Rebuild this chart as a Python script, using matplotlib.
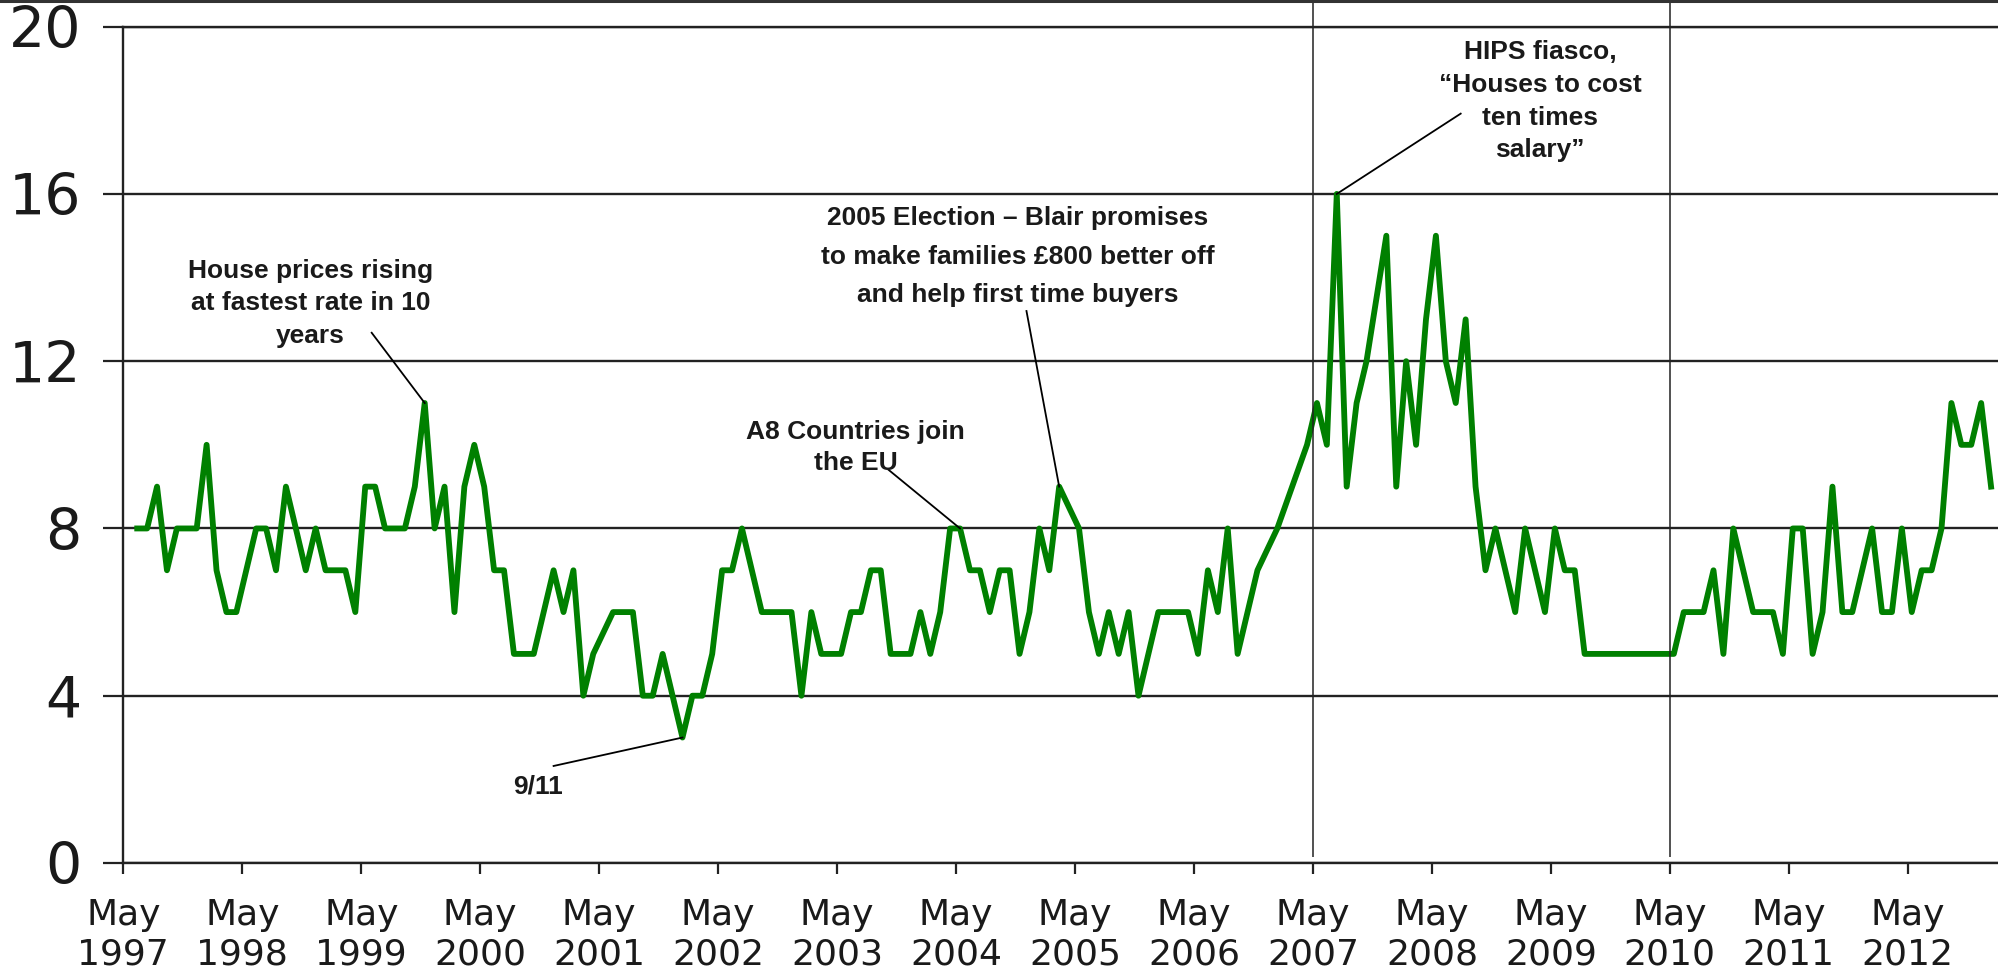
import numpy as np
import matplotlib
matplotlib.use('Agg')
import matplotlib.pyplot as plt
from matplotlib.lines import Line2D

nan = np.nan

# monthly values, June 1997 .. Jan 2013 (nan = no point, line joins across)
values = [8, 8, 9, 7, 8, 8, 8, 10, 7, 6, 6, 7, 8, 8, 7, 9, 8, 7, 8, 7,
          7, 7, 6, 9, 9, 8, 8, 8, 9, 11, 8, 9, 6, 9, 10, 9, 7, 7, 5, 5,
          5, 6, 7, 6, 7, 4, 5, nan, 6, 6, 6, 4, 4, 5, 4, 3, 4, 4, 5, 7,
          7, 8, 7, 6, 6, 6, 6, 4, 6, 5, 5, 5, 6, 6, 7, 7, 5, 5, 5, 6,
          5, 6, 8, 8, 7, 7, 6, 7, 7, 5, 6, 8, 7, 9, nan, 8, 6, 5, 6, 5,
          6, 4, 5, 6, 6, 6, 6, 5, 7, 6, 8, 5, 6, 7, nan, 8, nan, nan, 10, 11,
          10, 16, 9, 11, 12, nan, 15, 9, 12, 10, 13, 15, 12, 11, 13, 9, 7, 8, 7, 6,
          8, 7, 6, 8, 7, 7, 5, 5, 5, 5, 5, 5, 5, 5, 5, 5, 6, 6, 6, 7,
          5, 8, 7, 6, 6, 6, 5, 8, 8, 5, 6, 9, 6, 6, 7, 8, 6, 6, 8, 6,
          7, 7, 8, 11, 10, 10, 11, 9]
months = np.arange(1, len(values) + 1)          # months after May 1997
tick_months = np.arange(0, 181, 12)
tick_labels = ['May\n%d' % y for y in range(1997, 2013)]
event_months = [120, 156]                        # May 2007, May 2010

# note text, text position (month, value), index of the point, leader start
notes = [
    ('House prices rising\nat fastest rate in 10\nyears', 18.9, 14.45, 29, (25.05, 12.68)),
    ('9/11', 41.8, 2.12, 55, (43.4, 2.32)),
    ('A8 Countries join\nthe EU', 73.85, 10.6, 83, (77.2, 9.4)),
    ('2005 Election \u2013 Blair promises\nto make families \u00a3800 better off\nand help first time buyers',
     90.2, 15.7, 93, (91.1, 13.2)),
    ('HIPS fiasco,\n\u201cHouses to cost\nten times\nsalary\u201d', 142.9, 19.67, 121, (134.9, 17.92)),
]
spacing = [1.45, 1.45, 1.4, 1.75, 1.45]

vals = np.array(values, dtype=float)
x = months + 0.4
ok = ~np.isnan(vals)

fig = plt.figure(figsize=(19.99, 9.8), dpi=100)
ax = fig.add_axes([0.0617, 0.1194, 0.9383, 0.8534])

ax.plot(x[ok], vals[ok], color='#008000', lw=4.2, zorder=3)

ax.set_xlim(0, 189.2)
ax.set_ylim(0, 20)
ax.set_yticks([0, 4, 8, 12, 16, 20])
ax.set_xticks(tick_months)
ax.set_xticklabels(tick_labels, family='DejaVu Sans', fontsize=26, linespacing=1.2)
ax.set_yticklabels([str(v) for v in [0, 4, 8, 12, 16, 20]], family='DejaVu Sans', fontsize=41)
ax.tick_params(axis='y', direction='out', length=14.4, width=1.6, color='#222222',
               pad=16, labelcolor='#1a1a1a')
ax.tick_params(axis='x', direction='out', length=8, width=1.6, color='#222222',
               pad=17, labelcolor='#1a1a1a')
ax.grid(axis='y', color='#222222', lw=1.7)
for side in ['left', 'bottom', 'top']:
    ax.spines[side].set_color('#222222')
    ax.spines[side].set_linewidth(1.7)
ax.spines['right'].set_visible(False)

ax.vlines(event_months, 0.15, 20.65, color='#222222', lw=1.1, clip_on=False, zorder=4)

for (txt, tx, ty, k, start), ls in zip(notes, spacing):
    ax.text(tx, ty, txt, ha='center', va='top', fontsize=19, fontweight='bold',
            family='Liberation Sans', linespacing=ls, color='#1a1a1a', zorder=5)
    ax.plot([start[0], x[k]], [start[1], vals[k]], color='black', lw=1.3,
            clip_on=False, zorder=4)

fig.add_artist(Line2D([0, 1], [0.9986, 0.9986], transform=fig.transFigure,
                      color='#333333', lw=2.2))

fig.savefig('out.png', dpi=100)
